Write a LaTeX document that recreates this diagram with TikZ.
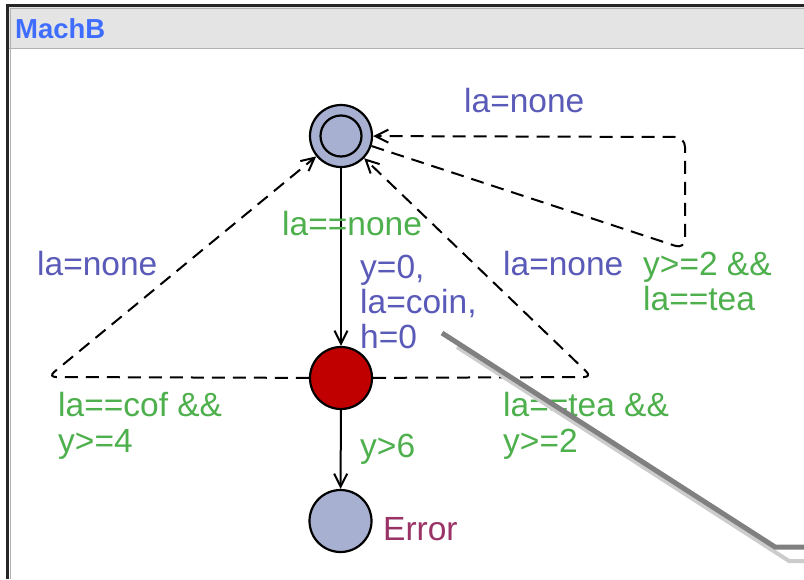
\documentclass[tikz,border=0pt]{standalone}
\usepackage{fontspec}
\setmainfont{Liberation Sans}
\usetikzlibrary{arrows.meta}
\definecolor{assign}{HTML}{5A5AB8}
\definecolor{guard}{HTML}{4DB04D}
\definecolor{errcol}{HTML}{993366}
\definecolor{locfill}{HTML}{A7B0D1}
\definecolor{commfill}{HTML}{C00000}
\definecolor{titlebar}{HTML}{E4E4E4}
\definecolor{titleblue}{HTML}{3F6DFF}
\tikzset{
  x=1pt, y=-1pt,
  loc/.style={circle, draw=black, line width=2.2pt, fill=locfill, minimum size=62pt, inner sep=0pt},
  edge/.style={line width=2pt, -{Straight Barb[length=13pt,width=13pt,line width=2pt]}},
  dedge/.style={edge, dash pattern=on 13pt off 8pt, rounded corners=8pt},
  lbl/.style={anchor=base west, inner sep=0pt, font=\fontsize{33.5}{35}\selectfont},
  asg/.style={lbl, text=assign},
  grd/.style={lbl, text=guard},
}
\begin{document}
\begin{tikzpicture}
\useasboundingbox (0,0) rectangle (804,579);
\fill[white] (0,0) rectangle (804,579);
% window frame
\fill[titlebar] (8,7) rectangle (804,48);
\draw[gray!60, line width=0.8pt] (8,48) -- (804,48);
\draw[black!85, line width=2.5pt] (7.5,579) -- (7.5,5.5) -- (804,5.5);
\draw[gray!60, line width=0.8pt] (10,579) -- (10,8) -- (804,8);
\node[anchor=base west, inner sep=0pt, text=titleblue, font=\bfseries\fontsize{27.5}{30}\selectfont] (title) at (15,38) {MachB};

% locations
\node[loc] (init) at (341,136) {};
\draw[line width=2.2pt] (init.center) circle (20.5pt);
\node[loc, fill=commfill] (comm) at (341,378) {};
\node[loc] (err) at (340.5,521) {};
\node[anchor=base west, inner sep=0pt, text=errcol, font=\fontsize{33.5}{35}\selectfont] (errname) at (383,540) {Error};

% nails
\coordinate (loopA) at (685,249);
\coordinate (loopB) at (685,137);
\coordinate (nailL) at (48,377);
\coordinate (nailR) at (592,377);

% edges
\draw[edge] (init) -- (comm);
\draw[edge] (comm) -- (err);
\draw[dedge] (comm) -- (nailL) -- (init);
\draw[dedge] (comm) -- (nailR) -- (init);
\draw[dedge, rounded corners=10pt] (init) -- (loopA) -- (loopB) -- (init);

% labels
\node[asg] (l1) at (464,112) {la=none};
\node[grd] (g1) at (282,235) {la==none};
\node[asg] (a1) at (360,278) {y=0,};
\node[asg] (a2) at (360,313) {la=coin,};
\node[asg] (a3) at (360,348) {h=0};
\node[asg] (l2) at (37,275) {la=none};
\node[asg] (l3) at (503,275) {la=none};
\node[grd] (g2) at (643,275) {y>=2 \&\&};
\node[grd] (g3) at (643,310) {la==tea};
\node[grd] (g4) at (58,416) {la==cof \&\&};
\node[grd] (g5) at (58,452) {y>=4};
\node[grd] (g6) at (503,416) {la==tea \&\&};
\node[grd] (g7) at (503,452) {y>=2};
\node[grd] (g8) at (360,457) {y>6};

% stray window edge
\draw[black!20, line width=4pt] (457,347) -- (789,561) -- (804,561);
\draw[black!50, line width=5pt] (442,333) -- (775,547) -- (804,547);
\end{tikzpicture}
\end{document}
